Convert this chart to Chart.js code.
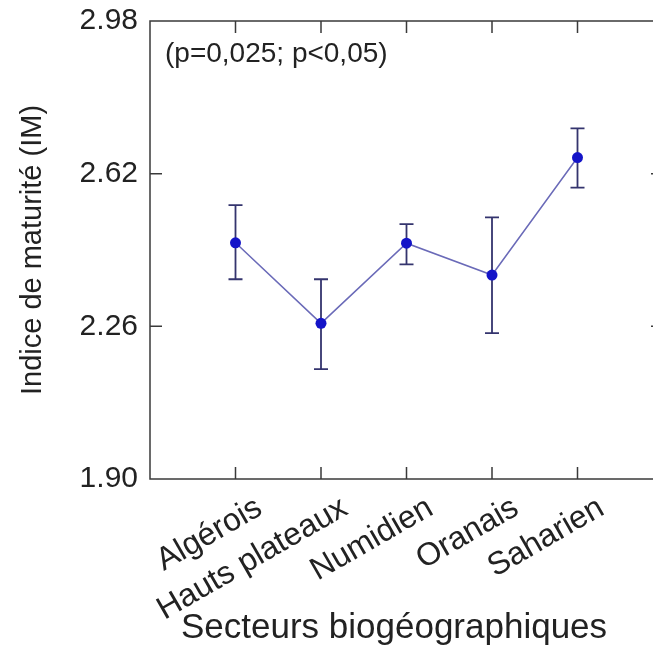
<!DOCTYPE html>
<html lang="fr">
<head>
<meta charset="utf-8">
<title>Indice de maturité par secteur</title>
<script src="https://cdn.jsdelivr.net/npm/chart.js@4/dist/chart.umd.min.js"></script>
<style>
    html, body { margin: 0; padding: 0; background: #fff; }
    #wrap { width: 653px; height: 657px; overflow: hidden; position: relative; }
    #maturityChart { display: block; }
</style>
</head>
<body>
<div id="wrap">
    <canvas id="maturityChart" width="680" height="657"></canvas>
</div>
<script>
// Secteurs biogéographiques et indice de maturité moyen (IM)
const sectors = ['Algérois', 'Hauts plateaux', 'Numidien', 'Oranais', 'Saharien'];
const meanIM = [2.457, 2.267, 2.456, 2.381, 2.658];
const barLow = [2.371, 2.159, 2.406, 2.244, 2.587];
const barHigh = [2.546, 2.371, 2.501, 2.517, 2.727];
const yTicks = [1.90, 2.26, 2.62, 2.98];
const statsNote = '(p=0,025; p<0,05)';
const xTitle = 'Secteurs biogéographiques';

const FONT = "'Liberation Sans', Arial, sans-serif";
const INK = '#222';

// Cadre avec graduations intérieures, barres d'erreur, note statistique
// et titre de l'axe des x
const framePlugin = {
    id: 'frame',
    beforeDatasetsDraw(chart) {
        const {ctx, chartArea: a, scales: {x, y}} = chart;
        const tick = 12;
        ctx.save();
        ctx.strokeStyle = '#3a3a3a';
        ctx.lineWidth = 1.5;
        ctx.strokeRect(a.left, a.top, a.right - a.left, a.bottom - a.top);

        ctx.beginPath();
        y.ticks.forEach(t => {
            if (t.value <= y.min || t.value >= y.max) return;
            const py = y.getPixelForValue(t.value);
            ctx.moveTo(a.left, py); ctx.lineTo(a.left + tick, py);
            ctx.moveTo(a.right, py); ctx.lineTo(a.right - tick, py);
        });
        x.ticks.forEach(t => {
            const px = x.getPixelForValue(t.value);
            ctx.moveTo(px, a.top); ctx.lineTo(px, a.top + tick);
            ctx.moveTo(px, a.bottom); ctx.lineTo(px, a.bottom - tick);
        });
        ctx.stroke();

        // barres d'erreur
        ctx.strokeStyle = '#34346e';
        ctx.lineWidth = 1.8;
        ctx.beginPath();
        sectors.forEach((s, i) => {
            const px = x.getPixelForValue(i + 1);
            const top = y.getPixelForValue(barHigh[i]);
            const bot = y.getPixelForValue(barLow[i]);
            ctx.moveTo(px, top); ctx.lineTo(px, bot);
            ctx.moveTo(px - 7, top); ctx.lineTo(px + 7, top);
            ctx.moveTo(px - 7, bot); ctx.lineTo(px + 7, bot);
        });
        ctx.stroke();

        ctx.fillStyle = INK;
        ctx.font = '28px ' + FONT;
        ctx.textAlign = 'left';
        ctx.textBaseline = 'alphabetic';
        ctx.fillText(statsNote, a.left + 15, a.top + 41);

        ctx.font = '35px ' + FONT;
        ctx.textAlign = 'center';
        ctx.fillText(xTitle, a.left + 244, a.bottom + 159);
        ctx.restore();
    }
};

const ctx = document.getElementById('maturityChart').getContext('2d');
new Chart(ctx, {
    type: 'line',
    data: {
        datasets: [{
            data: meanIM.map((v, i) => ({x: i + 1, y: v})),
            borderColor: '#6a6ab8',
            borderWidth: 1.5,
            pointRadius: 5.5,
            pointBackgroundColor: '#1414c8',
            pointBorderWidth: 0,
            tension: 0
        }]
    },
    options: {
        responsive: false,
        animation: false,
        layout: { padding: { left: 0, top: 21, right: 17, bottom: 0 } },
        plugins: {
            legend: { display: false },
            tooltip: { enabled: false }
        },
        scales: {
            x: {
                type: 'linear',
                min: 0,
                max: sectors.length + 1,
                afterBuildTicks: scale => {
                    scale.ticks = sectors.map((s, i) => ({value: i + 1}));
                },
                afterFit: scale => {
                    scale.height = 178;
                    scale.paddingLeft = 0;
                    scale.paddingRight = 0;
                },
                grid: { display: false, drawTicks: false },
                border: { display: false },
                ticks: {
                    autoSkip: false,
                    minRotation: 30,
                    maxRotation: 30,
                    padding: 10,
                    labelOffset: 24,
                    color: INK,
                    font: { family: FONT, size: 32 },
                    callback: v => sectors[v - 1] || ''
                }
            },
            y: {
                min: yTicks[0],
                max: yTicks[yTicks.length - 1],
                afterBuildTicks: scale => {
                    scale.ticks = yTicks.map(v => ({value: v}));
                },
                afterFit: scale => {
                    scale.width = 150;
                    scale.paddingTop = 0;
                    scale.paddingBottom = 0;
                },
                grid: { display: false, drawTicks: false },
                border: { display: false },
                ticks: {
                    padding: 12,
                    color: INK,
                    font: { family: FONT, size: 30 },
                    callback: v => v.toFixed(2)
                },
                title: {
                    display: true,
                    text: 'Indice de maturité (IM)',
                    color: INK,
                    font: { family: FONT, size: 29 },
                    padding: { top: 16, bottom: 0 }
                }
            }
        }
    },
    plugins: [framePlugin]
});
</script>
</body>
</html>
